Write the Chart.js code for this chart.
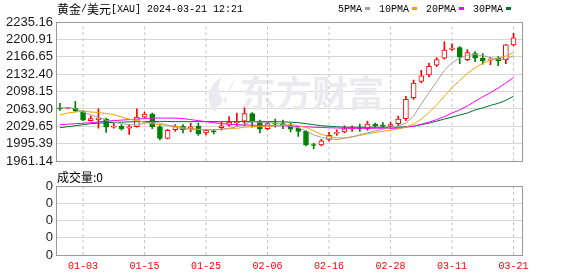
<!DOCTYPE html>
<html>
<head>
<meta charset="utf-8">
<script src="https://cdn.jsdelivr.net/npm/chart.js@4.4.1/dist/chart.umd.min.js"></script>
<style>
  body { margin: 0; background: #fff; }
  #wrap { position: relative; width: 578px; height: 276px; }
  canvas { position: absolute; left: 0; }
  #kline { top: 0; }
  #vol { top: 168px; }
</style>
</head>
<body>
<div id="wrap">
  <canvas id="kline" width="578" height="172"></canvas>
  <canvas id="vol" width="578" height="108"></canvas>
</div>
<script>
// --- data ---
const titleText = '黄金/美元[XAU] 2024-03-21 12:21';
const volText = '成交量:0';

const dates = ['12-29','01-01','01-02','01-03','01-04','01-05','01-08','01-09','01-10','01-11',
  '01-12','01-15','01-16','01-17','01-18','01-19','01-22','01-23','01-24','01-25',
  '01-26','01-29','01-30','01-31','02-01','02-02','02-05','02-06','02-07','02-08',
  '02-09','02-12','02-13','02-14','02-15','02-16','02-19','02-20','02-21','02-22',
  '02-23','02-26','02-27','02-28','02-29','03-01','03-04','03-05','03-06','03-07',
  '03-08','03-11','03-12','03-13','03-14','03-15','03-18','03-19','03-20','03-21'];

const opens = [2066,2065,2065,2059,2041,2043,2044,2028,2030,2026,
  2029,2048,2054,2029,2006,2023,2030,2025,2030,2017,
  2021,2027,2032,2037,2040,2055,2040,2025,2036,2034,
  2032,2026,2020,1993,1993,2004,2016,2019,2025,2027,
  2025,2034,2032,2030,2035,2045,2086,2118,2131,2150,
  2164,2181,2185,2161,2173,2164,2160,2164,2161,2190];
const highs = [2075,2067,2079,2061,2050,2064,2046,2036,2033,2033,
  2064,2058,2056,2032,2024,2033,2033,2036,2036,2024,
  2024,2038,2049,2056,2066,2057,2042,2038,2044,2042,
  2036,2028,2022,1997,2004,2018,2023,2031,2031,2034,
  2040,2036,2037,2038,2050,2089,2121,2140,2154,2165,
  2196,2192,2187,2181,2177,2173,2165,2167,2191,2213];
const lows = [2061,2064,2058,2041,2040,2026,2018,2026,2022,2014,
  2028,2047,2025,2003,2005,2020,2017,2019,2012,2013,
  2015,2022,2030,2031,2031,2028,2017,2023,2028,2025,
  2019,2010,1991,1986,1991,2001,2012,2017,2020,2020,
  2022,2028,2028,2025,2031,2041,2083,2115,2127,2147,
  2162,2179,2153,2159,2157,2152,2151,2149,2153,2188];
const closes = [2064,2066,2060,2042,2045,2046,2028,2030,2025,2029,
  2048,2054,2029,2006,2022,2030,2023,2029,2015,2022,
  2019,2031,2038,2039,2055,2040,2024,2035,2034,2033,
  2024,2020,1993,1992,2001,2012,2018,2025,2027,2025,
  2034,2031,2030,2033,2044,2083,2115,2129,2148,2161,
  2180,2184,2166,2175,2164,2159,2161,2159,2190,2204];

const ma5 = [2066,2067,2065,2058,2052,2048,2042,2038,2035,2033,
  2032,2036,2038,2036,2032,2028,2025,2024,2023.5,2023,
  2023,2024,2026,2029,2034,2039,2038,2037.5,2036,2034,
  2030,2027,2021,2013,2008,2005,2004,2006,2009,2013,
  2017,2021,2024,2027,2030,2036,2050,2074,2096,2118,
  2140,2155,2164,2170,2171,2169,2165,2162,2162,2169];
const ma10 = [2052,2056,2058,2060,2058,2057,2055,2053,2048,2044,
  2041,2038,2035,2033,2032,2030,2027,2025,2024,2023,
  2023,2024,2025,2026,2028,2029,2030,2030,2031,2032,
  2033,2031,2028,2021,2014,2010,2007,2007,2009,2012,
  2015,2018,2020,2022,2025,2028,2034,2044,2057,2072,
  2089,2106,2120,2134,2145,2154,2160,2164,2168,2175];
const ma20 = [2033,2034,2035,2036,2037,2038.5,2040,2041,2042,2043,
  2044,2045,2046,2046,2046,2046,2045,2043,2041,2039,
  2037,2035,2034,2033,2032.5,2032,2031.5,2031,2031,2031,
  2030,2029.5,2029,2028,2027.5,2027,2026.5,2026,2026,2026,
  2026,2026,2026,2026,2026,2028,2030,2034,2038,2043,
  2049,2056,2062,2070,2079,2088,2096,2105,2115,2126];
const ma30 = [2027,2029,2031,2033,2035,2036,2037,2037.5,2038,2038.5,
  2039,2039,2039.5,2039.5,2039.5,2039,2039,2039,2039,2039,
  2039,2039,2039,2039,2039,2039,2039,2039,2039,2038.5,
  2038,2037,2035,2033,2031,2030,2029,2028,2028,2028,
  2028,2028,2028,2028,2028,2029,2030,2033,2036,2040,
  2044,2048,2052,2056,2062,2066,2071,2075,2081,2089];

const maNames = ['5PMA', '10PMA', '20PMA', '30PMA'];
const maColors = ['#a0a0a0', '#f5a200', '#ff00ff', '#006f35'];

const yTickLabels = ['1961.14','1995.39','2029.65','2063.90','2098.15','2132.40','2166.65','2200.91','2235.16'];
const volTickLabels = ['0','0','0','0','0'];
const xTickIdx = [3, 11, 19, 27, 35, 43, 51, 59];

// --- helpers ---
const UP = '#ff0000';
const DOWN = '#008000';
const isUp = i => closes[i] >= opens[i];
const gridGray = '#d6d6d6';
const CJK_FONT = "12px 'Noto Sans CJK SC'";
const ASCII_FONT = "10px 'Liberation Mono'";

Chart.defaults.font.family = "'Liberation Sans', Arial, sans-serif";

// mixed-width text: CJK runs at 12px, the rest in a 6px-wide mono
function drawMixedText(ctx, text, x, y) {
    const runs = text.match(/[\u4e00-\u9fff]+|[^\u4e00-\u9fff]+/g) || [];
    runs.forEach(run => {
        ctx.font = /[\u4e00-\u9fff]/.test(run) ? CJK_FONT : ASCII_FONT;
        ctx.fillText(run, x, y);
        x += ctx.measureText(run).width;
    });
    return x;
}

// dashed vertical date lines as plain line datasets, under everything else
function dateLineSets(yMin, yMax) {
    return xTickIdx.map(v => ({
        type: 'line',
        label: 'date-' + v,
        data: [{ x: v, y: yMin }, { x: v, y: yMax }],
        borderColor: '#c4c4c4',
        borderWidth: 1,
        borderDash: [3, 3],
        pointRadius: 0,
        order: 5
    }));
}

const framePlugin = {
    id: 'panelFrame',
    afterDraw(chart) {
        const { ctx, chartArea: a } = chart;
        ctx.save();
        ctx.strokeStyle = '#999';
        ctx.lineWidth = 1;
        ctx.strokeRect(Math.round(a.left) + 0.5, Math.round(a.top) + 0.5,
            Math.round(a.right - a.left), Math.round(a.bottom - a.top));
        ctx.restore();
    }
};

const headerPlugin = {
    id: 'header',
    beforeDatasetsDraw(chart) {
        // watermark
        const ctx = chart.ctx;
        ctx.save();
        ctx.fillStyle = '#ebebef';
        ctx.beginPath();
        ctx.moveTo(214, 112);
        ctx.quadraticCurveTo(200, 92, 222, 76);
        ctx.quadraticCurveTo(214, 92, 226, 104);
        ctx.quadraticCurveTo(226, 88, 236, 78);
        ctx.quadraticCurveTo(228, 96, 214, 112);
        ctx.fill();
        ctx.font = "bold 36px 'Noto Sans CJK SC'";
        ctx.textBaseline = 'alphabetic';
        ctx.fillText('东方财富', 240, 107);
        ctx.restore();
    },
    afterDraw(chart) {
        const ctx = chart.ctx;
        ctx.save();
        ctx.textBaseline = 'middle';
        ctx.fillStyle = '#000';
        drawMixedText(ctx, titleText, 57, 9);

        let x = 338;
        ctx.font = ASCII_FONT;
        maNames.forEach((name, i) => {
            ctx.fillStyle = '#000';
            ctx.fillText(name, x, 9);
            x += ctx.measureText(name).width + 3;
            ctx.fillStyle = maColors[i];
            ctx.fillRect(x, 7, 5, 3);
            x += 5 + 9;
        });
        ctx.restore();
    }
};

const volLabelPlugin = {
    id: 'volLabel',
    afterDraw(chart) {
        const ctx = chart.ctx;
        ctx.save();
        ctx.textBaseline = 'middle';
        ctx.fillStyle = '#000';
        ctx.font = CJK_FONT;
        ctx.fillText(volText, 57, 9);
        ctx.restore();
    }
};

function xScale(showLabels) {
    return {
        type: 'linear',
        min: -0.52,
        max: 60.1,
        offset: false,
        afterBuildTicks: ax => { ax.ticks = xTickIdx.map(v => ({ value: v })); },
        afterFit: ax => { ax.height = showLabels ? 21 : 0; },
        ticks: {
            display: showLabels,
            autoSkip: false,
            maxRotation: 0,
            padding: 5,
            color: '#ff0000',
            font: { family: "'Liberation Mono', monospace", size: 10 },
            callback: v => dates[v]
        },
        grid: { display: false, drawTicks: false, offset: false },
        border: { display: false }
    };
}

function yScale(min, max, values, labels) {
    return {
        min: min,
        max: max,
        afterBuildTicks: ax => { ax.ticks = values.map(v => ({ value: v })); },
        afterFit: ax => { ax.width = 56; },
        ticks: {
            autoSkip: false,
            padding: 3,
            color: '#1a1a1a',
            font: { size: 13 },
            callback: (v, i) => labels[i]
        },
        grid: { color: gridGray, drawTicks: false },
        border: { display: false }
    };
}

// --- candlestick chart ---
const idx = dates.map((d, i) => i);

const wickData = idx.map(i => ({ x: i, y: [lows[i], highs[i]] }));
const bodyData = idx.map(i => ({ x: i, y: [opens[i], closes[i]] }));
const maSeries = [ma5, ma10, ma20, ma30];
const priceMin = Number(yTickLabels[0]);
const priceMax = Number(yTickLabels[yTickLabels.length - 1]);

const klineChart = new Chart(document.getElementById('kline'), {
    type: 'bar',
    data: {
        datasets: [
            ...maSeries.map((arr, k) => ({
                type: 'line',
                label: maNames[k],
                data: arr.map((v, i) => ({ x: i, y: v })),
                borderColor: maColors[k],
                borderWidth: 1,
                pointRadius: 0,
                tension: 0,
                order: 0
            })),
            {
                label: 'body',
                data: bodyData,
                barThickness: 5,
                minBarLength: 1,
                grouped: false,
                borderWidth: 1,
                borderSkipped: false,
                backgroundColor: ctx => isUp(ctx.dataIndex) ? '#ffffff' : DOWN,
                borderColor: ctx => isUp(ctx.dataIndex) ? UP : DOWN,
                order: 1
            },
            {
                label: 'wick',
                data: wickData,
                barThickness: 1,
                grouped: false,
                borderWidth: 0,
                backgroundColor: ctx => isUp(ctx.dataIndex) ? UP : DOWN,
                order: 2
            },
            ...dateLineSets(priceMin, priceMax)
        ]
    },
    options: {
        responsive: false,
        animation: false,
        layout: { padding: { top: 22, right: 56, bottom: 7, left: 0 } },
        plugins: { legend: { display: false }, tooltip: { enabled: false } },
        scales: {
            x: xScale(false),
            y: yScale(priceMin, priceMax, yTickLabels.map(Number), yTickLabels)
        }
    },
    plugins: [headerPlugin, framePlugin]
});

// --- volume panel (all zero) ---
const volChart = new Chart(document.getElementById('vol'), {
    type: 'bar',
    data: { datasets: [{ label: 'vol', data: [] }, ...dateLineSets(0, 4)] },
    options: {
        responsive: false,
        animation: false,
        layout: { padding: { top: 18, right: 56, bottom: 0, left: 0 } },
        plugins: { legend: { display: false }, tooltip: { enabled: false } },
        scales: {
            x: xScale(true),
            y: yScale(0, 4, volTickLabels.map((s, i) => i), volTickLabels)
        }
    },
    plugins: [volLabelPlugin, framePlugin]
});
</script>
</body>
</html>
